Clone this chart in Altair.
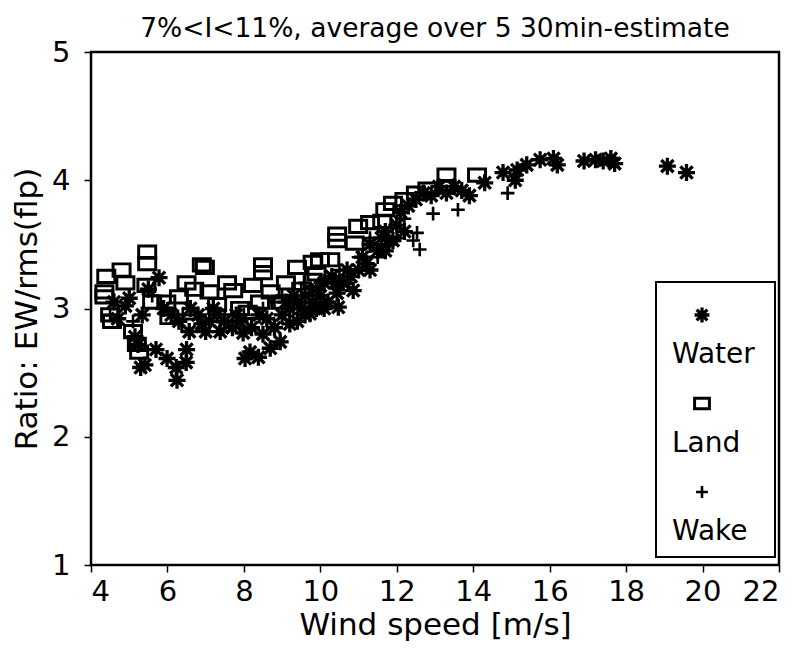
import altair as alt
import pandas as pd

SERIES = ["Water", "Land", "Wake"]

WATER_X = [4.6, 4.7, 4.9, 5.0, 5.15, 5.23, 5.3, 5.34, 5.41, 5.5, 5.7, 5.78, 5.9, 5.99, 6.1,
           6.23, 6.25, 6.3, 6.49, 6.5, 6.57, 6.6, 6.8, 7.0, 7.1, 7.2, 7.38, 7.5, 7.7, 7.8,
           7.98, 8.03, 8.16, 8.2, 8.38, 8.5, 8.6, 8.69, 8.8, 8.95, 9.0, 9.1, 9.2, 9.3, 9.4,
           9.5, 9.6, 9.73, 9.8, 9.9, 10.0, 10.1, 10.2, 10.3, 10.44, 10.47, 10.6, 10.7, 10.86, 11.0,
           11.1, 11.2, 11.3, 11.5, 11.6, 11.7, 11.9, 12.0, 12.1, 12.3, 12.5, 12.7, 12.9, 13.1, 13.3,
           13.5, 13.7, 13.9, 14.3, 14.78, 15.1, 15.15, 15.4, 15.75, 16.1, 16.2, 16.9, 17.2, 17.4, 17.6,
           17.7, 19.08, 19.58,
           9.2, 9.4, 9.6, 9.9, 10.1, 10.4, 10.8, 11.3, 11.7, 12.2, 7.3, 7.9, 8.4, 6.9]
WATER_Y = [3.05, 2.92, 3.02, 3.08, 2.78, 2.72, 2.54, 2.95, 2.56, 3.15, 2.68, 3.24, 3.0, 2.61, 2.95,
           2.54, 2.44, 2.9, 2.58, 2.68, 2.82, 3.0, 2.95, 2.82, 2.9, 3.0, 2.82, 2.9, 2.85, 2.95,
           2.81, 2.61, 2.66, 2.85, 2.62, 2.8, 2.92, 2.69, 2.85, 2.74, 2.95, 3.05, 2.88, 3.1, 2.9,
           3.0, 3.1, 2.96, 3.05, 3.15, 3.1, 3.2, 3.05, 3.25, 3.12, 3.01, 3.2, 3.3, 3.14, 3.3,
           3.4, 3.35, 3.5, 3.45, 3.55, 3.6, 3.53, 3.65, 3.75, 3.8, 3.85, 3.9, 3.88, 3.95, 3.9,
           3.95, 3.92, 3.88, 3.98, 4.06, 4.0, 4.08, 4.12, 4.16, 4.17, 4.12, 4.15, 4.16, 4.15, 4.17,
           4.13, 4.11, 4.06,
           3.0, 3.05, 2.95, 3.0, 3.0, 3.2, 3.25, 3.3, 3.45, 3.6, 2.95, 2.9, 2.95, 2.88]

LAND_X = [4.35, 4.35, 4.4, 4.5, 4.55, 4.8, 4.9, 5.1, 5.2, 5.26, 5.45, 5.47, 5.47, 5.6, 5.97,
          6.05, 6.3, 6.5, 6.6, 6.7, 6.9, 6.98, 7.1, 7.3, 7.56, 7.72, 7.9, 8.1, 8.24, 8.42,
          8.5, 8.5, 8.7, 8.95, 9.1, 9.39, 9.5, 9.8, 9.8, 9.9, 9.99, 10.26, 10.44, 10.44, 10.9,
          10.99, 11.3, 11.62, 11.7, 11.9, 12.2, 12.5, 12.8, 13.3, 13.3, 14.1]
LAND_Y = [3.13, 3.09, 3.25, 2.95, 2.9, 3.3, 3.2, 2.82, 2.72, 2.66, 3.18, 3.44, 3.35, 3.05, 3.05,
          2.93, 3.09, 3.2, 2.87, 3.15, 3.34, 3.32, 3.13, 3.03, 3.2, 3.14, 3.0, 2.97, 3.18, 3.05,
          3.34, 3.28, 3.13, 3.05, 3.2, 3.32, 3.15, 3.36, 3.22, 3.27, 3.38, 3.38, 3.58, 3.53, 3.51,
          3.64, 3.67, 3.68, 3.77, 3.82, 3.85, 3.9, 3.93, 4.04, 3.95, 4.04]

WAKE_X = [4.5, 5.1, 5.6, 6.0, 6.4, 7.0, 7.5, 8.0, 8.5, 9.0, 9.3, 9.5, 9.8, 10.0, 10.3,
          10.5, 10.8, 11.0, 11.2, 11.3, 11.5, 11.8, 12.0, 12.2, 12.43, 12.53, 12.6, 12.95, 13.6, 14.9,
          7.8, 8.8, 9.6, 10.6, 11.4]
WAKE_Y = [2.95, 2.9, 3.1, 3.0, 2.95, 2.9, 2.95, 2.95, 3.0, 3.1, 3.0, 3.15, 3.1, 3.2, 3.2,
          3.3, 3.25, 3.4, 3.35, 3.55, 3.4, 3.5, 3.55, 3.7, 3.53, 3.59, 3.46, 3.74, 3.77, 3.9,
          2.9, 3.05, 3.2, 3.2, 3.5]

X_TICKS = [4, 6, 8, 10, 12, 14, 16, 18, 20, 22]
Y_TICKS = [1, 2, 3, 4, 5]

TITLE = "7%<I<11%,  average over 5 30min-estimate"
X_TITLE = "Wind speed [m/s]"
Y_TITLE = "Ratio: EW/rms(flp)"

ASTERISK = "M-1,0H1M0,-1V1M-0.72,-0.72L0.72,0.72M-0.72,0.72L0.72,-0.72"
RECT = "M-1,-0.72H1V0.72H-1Z"
PLUS = "M-0.8,0H0.8M0,-0.8V0.8"
SHAPES = [ASTERISK, RECT, PLUS]
STROKES = [3.3, 2.6, 3.6]

rows = []
for name, xs, ys in [("Land", LAND_X, LAND_Y), ("Wake", WAKE_X, WAKE_Y), ("Water", WATER_X, WATER_Y)]:
    for x, y in zip(xs, ys):
        rows.append({"series": name, "speed": x, "ratio": y})
df = pd.DataFrame(rows)
legend_df = pd.DataFrame({"series": SERIES})

FONT = "DejaVu Sans"
shape_scale = alt.Scale(domain=SERIES, range=SHAPES)
stroke_scale = alt.Scale(domain=SERIES, range=STROKES)

points = alt.Chart(df).mark_point(filled=False, color="black", size=290, opacity=1).encode(
    x=alt.X("speed:Q", scale=alt.Scale(domain=[4, 22], nice=False, zero=False),
            axis=alt.Axis(values=X_TICKS, title=X_TITLE, labelPadding=5, titlePadding=4)),
    y=alt.Y("ratio:Q", scale=alt.Scale(domain=[1, 5], nice=False, zero=False),
            axis=alt.Axis(values=Y_TICKS, title=Y_TITLE, labelPadding=14, titlePadding=8)),
    shape=alt.Shape("series:N", scale=shape_scale, legend=None),
    strokeWidth=alt.StrokeWidth("series:N", scale=stroke_scale, legend=None),
)

box = alt.Chart(pd.DataFrame({"k": [0]})).mark_rect(fill="white", stroke="black", strokeWidth=2).encode(
    x=alt.value(565), x2=alt.value(684), y=alt.value(230), y2=alt.value(505)
)

leg_y = alt.Y("series:N", sort=SERIES,
              scale=alt.Scale(type="point", domain=SERIES, range=[263, 440], padding=0), axis=None)

leg_sym = alt.Chart(legend_df).mark_point(filled=False, color="black", size=220, opacity=1).encode(
    x=alt.value(611), y=leg_y,
    shape=alt.Shape("series:N", scale=shape_scale, legend=None),
    strokeWidth=alt.StrokeWidth("series:N", scale=stroke_scale, legend=None),
)
leg_txt = alt.Chart(legend_df).mark_text(align="left", baseline="middle", dy=40, font=FONT,
                                         fontSize=28, color="black").encode(
    x=alt.value(581), y=leg_y, text="series:N"
)

chart = alt.layer(points, box, leg_sym, leg_txt).resolve_scale(y="independent").properties(
    width=688, height=513,
    title=alt.TitleParams(TITLE, font=FONT, fontSize=26.5, fontWeight="normal", color="black",
                          offset=-4, anchor="middle", frame="group"),
    autosize=alt.AutoSizeParams(type="none"),
    padding={"left": 83, "top": 44, "right": 12, "bottom": 79},
).configure_view(stroke="black", strokeWidth=2.5).configure_axis(
    grid=False, domain=False, tickColor="black", tickWidth=1.5, tickSize=7,
    labelFont=FONT, labelFontSize=29, labelColor="black",
    titleFont=FONT, titleFontSize=31, titleColor="black", titleFontWeight="normal",
)

chart.save("out.html", embed_options={"renderer": "svg", "actions": False})
